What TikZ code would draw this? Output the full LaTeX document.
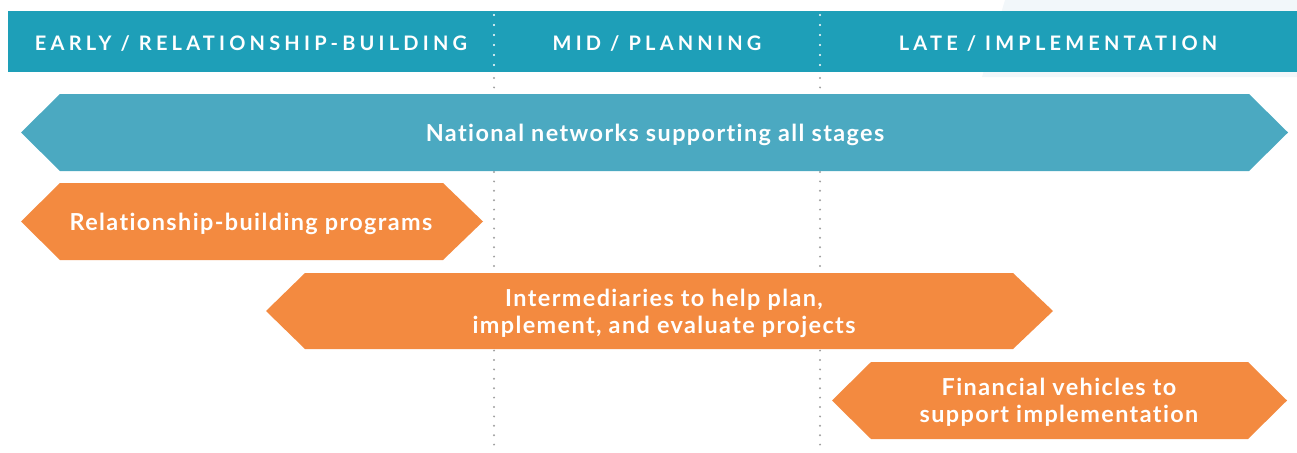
\documentclass[tikz,border=0pt]{standalone}
\usepackage{fontspec}
\setmainfont{Lato}[LetterSpace=6,Ligatures={NoCommon,NoRare}]
\newfontfamily\hdrfont[LetterSpace=21,Ligatures={NoCommon,NoRare}]{Lato}
\definecolor{hdrteal}{HTML}{1E9FB8}
\definecolor{netblue}{HTML}{4BA9C1}
\definecolor{progorange}{HTML}{F38A40}
\definecolor{dotgray}{HTML}{A0A0A0}
\definecolor{panelgray}{HTML}{F2F7FA}
\tikzset{
  hdrtext/.style={text=white, font=\hdrfont\bfseries\fontsize{20}{24}\selectfont, anchor=center, inner sep=0pt},
  bartext/.style={text=white, font=\bfseries\fontsize{23.4}{27}\selectfont, align=center, anchor=center, inner sep=0pt},
  hdrdots/.style={white, line width=2.2pt, line cap=round, dash pattern=on 0pt off 10pt},
  bodydots/.style={dotgray, line width=2.2pt, line cap=round, dash pattern=on 0pt off 9.4pt},
}
\begin{document}
\begin{tikzpicture}[x=1pt,y=-1pt]
\useasboundingbox (0,0) rectangle (1297,452);
% faint panel top right
\fill[panelgray] (1005,0) -- (1297,0) -- (1297,77) -- (982,77) -- cycle;
% header bar
\fill[hdrteal] (8,11) rectangle (1297,72);
% separators
\coordinate (s1t) at (494,15); \coordinate (s1m) at (494,67);
\coordinate (s1u) at (494,78); \coordinate (s1b) at (494,452);
\coordinate (s2t) at (820,15); \coordinate (s2m) at (820,67);
\coordinate (s2u) at (820,78); \coordinate (s2b) at (820,452);
\draw[hdrdots] (s1t) -- (s1m);
\draw[hdrdots] (s2t) -- (s2m);
\draw[bodydots] (s1u) -- (s1b);
\draw[bodydots] (s2u) -- (s2b);
% header texts
\node[hdrtext] (h1) at (251,44) {EARLY / RELATIONSHIP-BUILDING};
\node[hdrtext] (h2) at (657,44) {MID / PLANNING};
\node[hdrtext] (h3) at (1058,44) {LATE / IMPLEMENTATION};
% national networks
\fill[netblue] (21,132.5) -- (60,94) -- (1249,94) -- (1288,132.5) -- (1249,171) -- (60,171) -- cycle;
\node[bartext] (nat) at (655,135) {National networks supporting all stages};
% relationship-building
\fill[progorange] (21,221.5) -- (60,183) -- (443,183) -- (483,221.5) -- (443,260) -- (60,260) -- cycle;
\node[bartext] (rel) at (251,223.5) {Relationship-building programs};
% intermediaries
\fill[progorange] (266,311) -- (305,273) -- (1013,273) -- (1053,311) -- (1013,349) -- (305,349) -- cycle;
\node[bartext] (int) at (664,313) {Intermediaries to help plan,\\implement, and evaluate projects};
% financial
\fill[progorange] (832,400.5) -- (871,362) -- (1248,362) -- (1287,400.5) -- (1248,439) -- (871,439) -- cycle;
\node[bartext] (fin) at (1059,402.5) {Financial vehicles to\\support implementation};
\end{tikzpicture}
\end{document}
